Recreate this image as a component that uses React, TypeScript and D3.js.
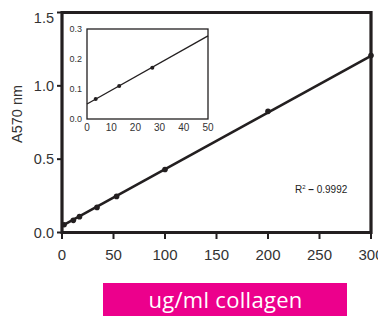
import React from "react";
import * as d3 from "d3";

// main standard curve
const concX = [2, 11, 17, 34, 53, 100, 200, 300];
const absY = [0.053, 0.083, 0.108, 0.171, 0.246, 0.43, 0.826, 1.206];
const fitX = [0, 300];
const fitY = [0.045, 1.205];
const xTicks = [0, 50, 100, 150, 200, 250, 300];
const yTicks = [0, 0.5, 1.0, 1.5];

// inset (low range)
const insetX = [3.6, 13.3, 27];
const insetY = [0.067, 0.11, 0.171];
const insetFitX = [0, 50];
const insetFitY = [0.05, 0.277];
const insetXTicks = [0, 10, 20, 30, 40, 50];
const insetYTicks = [0, 0.1, 0.2, 0.3];

const ink = "#231f20";
const font = "'Liberation Sans', Arial, sans-serif";

export default function App() {
  let x = d3.scaleLinear().domain([0, 300]).range([62, 371]);
  let y = d3.scaleLinear().domain([0, 1.5]).range([232.5, 12.5]);
  let ix = d3.scaleLinear().domain([0, 50]).range([87, 208]);
  let iy = d3.scaleLinear().domain([0, 0.3]).range([119, 29]);

  let fitLine = d3
    .line<number>()
    .x((d) => x(d))
    .y((d, i) => y(fitY[i]));
  let insetLine = d3
    .line<number>()
    .x((d) => ix(d))
    .y((d, i) => iy(insetFitY[i]));

  return (
    <svg
      width={378}
      height={316}
      style={{ position: "absolute", left: 0, top: 0, background: "#fff" }}
    >
      {/* y axis ticks + labels */}
      {yTicks.map((t, i) => (
        <g key={"y" + t}>
          <line x1={57} x2={62} y1={y(t)} y2={y(t)} stroke={ink} strokeWidth={2} />
          <text
            x={54}
            y={y(t)}
            dy={i == yTicks.length - 1 ? "0.75em" : "0.36em"}
            textAnchor="end"
            fontFamily={font}
            fontSize={14.5}
            fill="#333"
          >
            {d3.format(".1f")(t)}
          </text>
        </g>
      ))}
      {/* x axis ticks + labels */}
      {xTicks.map((t) => (
        <g key={"x" + t}>
          <line x1={x(t)} x2={x(t)} y1={232} y2={239} stroke={ink} strokeWidth={2} />
          <text
            x={x(t)}
            y={260}
            textAnchor="middle"
            fontFamily={font}
            fontSize={15}
            fill="#333"
          >
            {t}
          </text>
        </g>
      ))}
      <text
        transform={`translate(22,114) rotate(-90)`}
        textAnchor="middle"
        fontFamily={font}
        fontSize={14.5}
        fill="#333"
      >
        A570 nm
      </text>

      {/* frame */}
      <path
        d={`M${x(0)},${y(1.5)}H${x(300)}V${y(0)}H${x(0)}Z`}
        fill="none"
        stroke={ink}
        strokeWidth={3.2}
      />

      {/* main fit + points */}
      <path d={fitLine(fitX) || ""} fill="none" stroke={ink} strokeWidth={2.6} />
      {concX.map((c, i) => (
        <circle key={"p" + i} cx={x(c)} cy={y(absY[i])} r={2.8} fill={ink} />
      ))}

      {/* inset */}
      <rect
        x={ix(0)}
        y={iy(0.3)}
        width={ix(50) - ix(0)}
        height={iy(0) - iy(0.3)}
        fill="#fff"
        stroke={ink}
        strokeWidth={1.3}
      />
      <path d={insetLine(insetFitX) || ""} fill="none" stroke={ink} strokeWidth={1.3} />
      {insetX.map((c, i) => (
        <circle key={"ip" + i} cx={ix(c)} cy={iy(insetY[i])} r={2} fill={ink} />
      ))}
      {insetYTicks.map((t) => (
        <text
          key={"iy" + t}
          x={82}
          y={iy(t)}
          dy="0.36em"
          textAnchor="end"
          fontFamily={font}
          fontSize={9}
          fill="#333"
        >
          {d3.format(".1f")(t)}
        </text>
      ))}
      {insetXTicks.map((t) => (
        <text
          key={"ix" + t}
          x={ix(t)}
          y={131}
          textAnchor="middle"
          fontFamily={font}
          fontSize={10}
          fill="#333"
        >
          {t}
        </text>
      ))}

      {/* R squared */}
      <text x={295} y={192.5} fontFamily={font} fontSize={10} fill="#222">
        R
        <tspan dy={-4} fontSize={6}>
          2
        </tspan>
        <tspan dy={4} fontWeight="bold">
          {" \u2013 "}
        </tspan>
        0.9992
      </text>

      {/* x axis title box */}
      <rect x={103} y={283} width={244} height={40} fill="#ec008c" />
      <text
        x={225.5}
        y={307.5}
        textAnchor="middle"
        fontFamily="'Open Sans', sans-serif"
        fontSize={22}
        letterSpacing={0.3}
        fill="#fff"
      >
        ug/ml collagen
      </text>
    </svg>
  );
}
